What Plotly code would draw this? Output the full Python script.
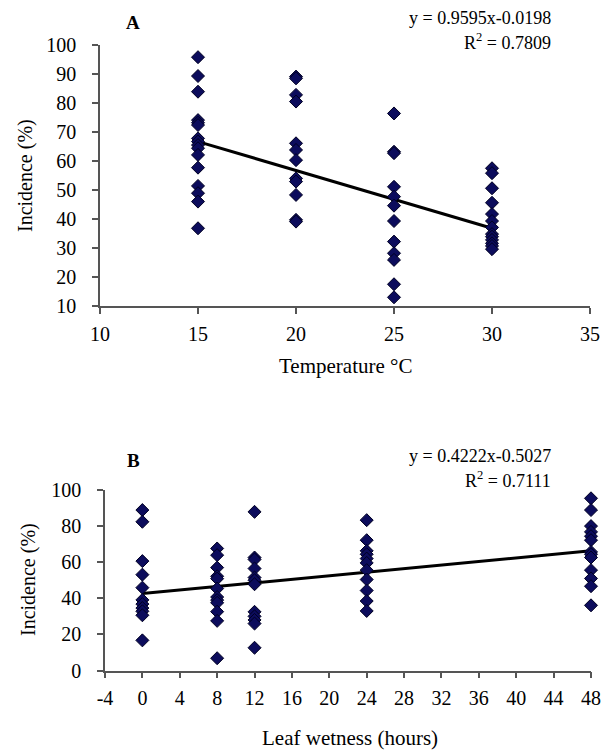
import plotly.graph_objects as go

W, H = 601, 751

# ---------------- data ----------------
temp_15 = [95.8, 89.3, 83.9, 74.1, 73.2, 72.4, 67.8, 66.7, 65.5, 64.4, 62.1, 57.7, 51.4, 48.9, 46.0, 36.8]
temp_20 = [89.1, 88.5, 82.8, 80.5, 66.1, 63.8, 60.3, 54.0, 52.9, 48.3, 39.7, 39.1]
temp_25 = [76.4, 63.2, 62.7, 51.1, 47.7, 44.6, 39.3, 32.2, 28.2, 25.9, 17.5, 13.0]
temp_30 = [57.5, 55.8, 50.6, 45.6, 41.7, 39.3, 37.1, 34.8, 33.9, 32.8, 31.6, 30.7, 29.6]
temp_levels = [15, 20, 25, 30]
trend_a_x = [15, 30]
trend_a_y = [66.7, 36.8]

wet_0 = [88.9, 82.4, 60.6, 53.1, 45.9, 39.1, 36.8, 34.6, 32.8, 30.6, 16.7]
wet_8 = [67.6, 63.9, 57.0, 52.2, 50.9, 45.4, 40.7, 39.0, 37.5, 32.6, 27.5, 6.8]
wet_12 = [87.9, 62.6, 61.5, 56.5, 51.5, 50.0, 47.8, 32.5, 30.0, 28.0, 26.0, 12.6]
wet_24 = [83.3, 72.2, 66.3, 64.4, 62.0, 59.6, 55.6, 50.4, 44.3, 38.5, 33.0]
wet_48 = [95.4, 88.9, 80.0, 76.8, 74.4, 72.2, 65.7, 64.4, 62.6, 55.6, 51.0, 46.7, 36.1]
wet_levels = [0, 8, 12, 24, 48]
trend_b_x = [0, 48]
trend_b_y = [42.6, 66.3]

a_xticks = [10, 15, 20, 25, 30, 35]
a_yticks = [10, 20, 30, 40, 50, 60, 70, 80, 90, 100]
b_xticks = [-4, 0, 4, 8, 12, 16, 20, 24, 28, 32, 36, 40, 44, 48]
b_xticklabels = ["-4", "0", "4", "8", "12", "16", "20", "24", "28", "32", "36", "40", "44", "48"]
b_yticks = [0, 20, 40, 60, 80, 100]

eq_a = ["y = 0.9595x-0.0198", "R<sup>2</sup> = 0.7809"]
eq_b = ["y = 0.4222x-0.5027", "R<sup>2</sup> = 0.7111"]

# ---------------- helpers ----------------
def px(x):
    return x / W

def py(y):
    return 1 - y / H

FONT = "Liberation Serif, Times New Roman, serif"
MARK = dict(symbol="diamond", size=10, color="#0c0c5c", line=dict(color="#000022", width=1))

fig = go.Figure()

a_x, a_y = [], []
for lvl, vals in zip(temp_levels, [temp_15, temp_20, temp_25, temp_30]):
    a_x += [lvl] * len(vals)
    a_y += vals
b_x, b_y = [], []
for lvl, vals in zip(wet_levels, [wet_0, wet_8, wet_12, wet_24, wet_48]):
    b_x += [lvl] * len(vals)
    b_y += vals

fig.add_trace(go.Scatter(x=trend_a_x, y=trend_a_y, mode="lines",
                         line=dict(color="black", width=3), xaxis="x", yaxis="y",
                         showlegend=False, hoverinfo="skip"))
fig.add_trace(go.Scatter(x=a_x, y=a_y, mode="markers", marker=MARK,
                         xaxis="x", yaxis="y", showlegend=False, cliponaxis=False))
fig.add_trace(go.Scatter(x=trend_b_x, y=trend_b_y, mode="lines",
                         line=dict(color="black", width=3), xaxis="x2", yaxis="y2",
                         showlegend=False, hoverinfo="skip"))
fig.add_trace(go.Scatter(x=b_x, y=b_y, mode="markers", marker=MARK,
                         xaxis="x2", yaxis="y2", showlegend=False, cliponaxis=False))

axis_common = dict(showgrid=False, zeroline=False, showline=True, linecolor="#555555",
                   linewidth=1.5, ticks="outside", ticklen=6, tickcolor="#555555",
                   tickwidth=1.5, automargin=False, ticklabeloverflow="allow",
                   tickfont=dict(family=FONT, size=20, color="black"))

fig.update_layout(
    width=W, height=H,
    margin=dict(l=0, r=0, t=0, b=0, pad=0),
    paper_bgcolor="white", plot_bgcolor="white",
    xaxis=dict(domain=[px(100), px(590)], range=[10, 35], tickvals=a_xticks,
               anchor="y", ticklabelstandoff=3, **axis_common),
    yaxis=dict(domain=[py(306), py(45)], range=[10, 100], tickvals=a_yticks,
               anchor="x", ticklabelstandoff=12, **axis_common),
    xaxis2=dict(domain=[px(105), px(591)], range=[-4, 48], tickvals=b_xticks,
                ticktext=b_xticklabels, anchor="y2", ticklabelstandoff=3, **axis_common),
    yaxis2=dict(domain=[py(670.5), py(490)], range=[0, 100], tickvals=b_yticks,
                anchor="x2", ticklabelstandoff=12, **axis_common),
)

ann = []
def add_text(text, x, y, size=18, bold=False, xanchor="center", angle=0):
    ann.append(dict(text=f"<b>{text}</b>" if bold else text, x=px(x), y=py(y),
                    xref="paper", yref="paper", showarrow=False, xanchor=xanchor,
                    yanchor="middle", textangle=angle,
                    font=dict(family=FONT, size=size, color="black")))

add_text("A", 133, 22, size=19, bold=True)
add_text(eq_a[0], 553, 18, size=18, xanchor="right")
add_text(eq_a[1], 553, 41, size=18, xanchor="right")
add_text("Temperature °C", 345, 366, size=21)
add_text("Incidence (%)", 25, 176, size=20, angle=-90)

add_text("B", 133, 460, size=19, bold=True)
add_text(eq_b[0], 553, 456, size=18, xanchor="right")
add_text(eq_b[1], 553, 479, size=18, xanchor="right")
add_text("Leaf wetness (hours)", 350, 738, size=21)
add_text("Incidence (%)", 28, 580, size=20, angle=-90)

fig.update_layout(annotations=ann)

fig.write_html(
    "out.html",
    config={"displayModeBar": False},
    post_script="document.body.style.margin='0';document.body.style.overflow='hidden';",
)
